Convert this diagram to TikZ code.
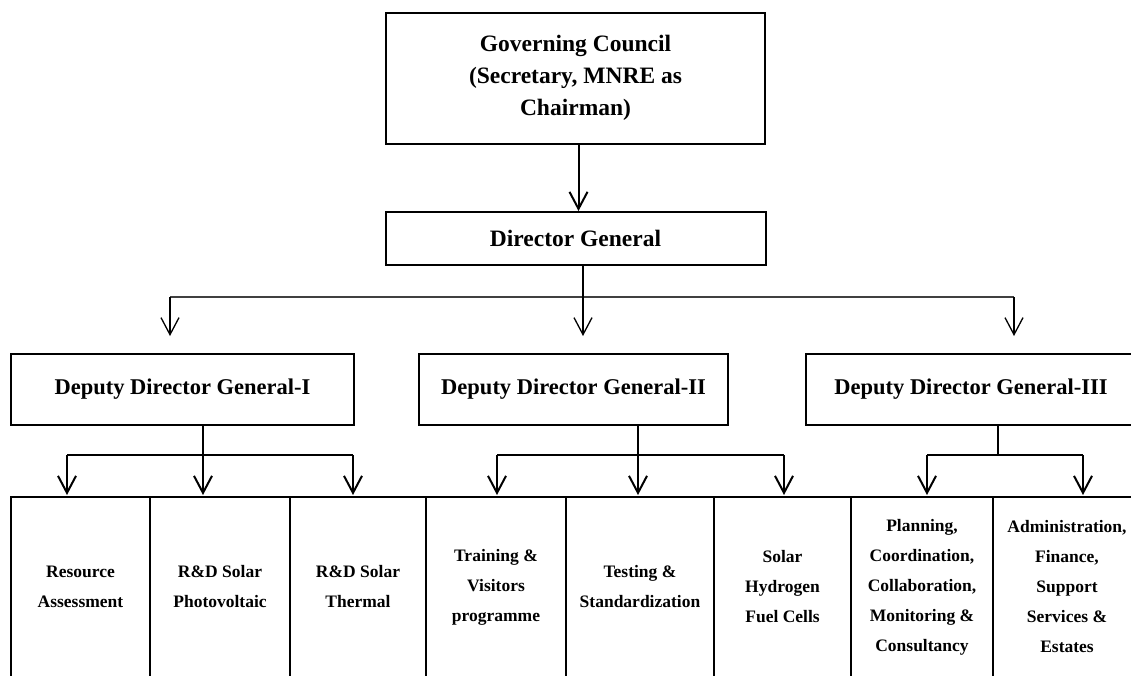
\documentclass[tikz,border=0pt]{standalone}
\usepackage{fontspec}
\setmainfont{Liberation Serif}
\usetikzlibrary{arrows.meta,calc}
\tikzset{
  box/.style={draw, line width=2pt, inner sep=0pt, align=center,
    font=\bfseries\fontsize{23.5}{32}\selectfont},
  ddgbox/.style={box, font=\bfseries\fontsize{22.5}{30}\selectfont, minimum height=71pt},
  cell/.style={draw, line width=2pt, inner sep=0pt, align=center,
    font=\bfseries\fontsize{17.5}{30}\selectfont, minimum height=180pt},
  conn/.style={line width=2pt},
  thinconn/.style={line width=1.3pt},
  tip/.style={-{Straight Barb[length=17pt,width=18pt]}},
}
\begin{document}
\begin{tikzpicture}[x=1pt,y=-1pt]
\useasboundingbox (0,0) rectangle (1131,675);
\clip (0,0) rectangle (1131,675);

% top boxes
\node[box, minimum width=379pt, minimum height=131pt] (gc) at (575.5,78)
  {Governing Council\\(Secretary, MNRE as\\Chairman)};
\node[box, minimum width=380pt, minimum height=53pt] (dg) at (575.5,238.5)
  {Director General};

% deputy directors
\node[ddgbox, minimum width=343pt] (ddg1) at (182.5,389.5) {Deputy Director General-I};
\node[ddgbox, minimum width=309pt] (ddg2) at (573.5,389.5) {Deputy Director General-II};
\node[ddgbox, minimum width=330pt] (ddg3) at (971,389.5) {Deputy Director General-III};

% bottom cells
\node[cell, minimum width=139pt] (c1) at (80.5,587) {Resource\\Assessment};
\node[cell, minimum width=140pt] (c2) at (220,587) {R\&D Solar\\Photovoltaic};
\node[cell, minimum width=136pt] (c3) at (358,587) {R\&D Solar\\Thermal};
\node[cell, minimum width=140pt] (c4) at (496,587) {Training \&\\Visitors\\programme};
\node[cell, minimum width=148pt] (c5) at (640,587) {Testing \&\\Standardization};
\node[cell, minimum width=137pt] (c6) at (782.5,587) {Solar\\Hydrogen\\Fuel Cells};
\node[cell, minimum width=142pt] (c7) at (922,587) {Planning,\\Coordination,\\Collaboration,\\Monitoring \&\\Consultancy};
\node[cell, minimum width=148pt] (c8) at (1067,587) {Administration,\\Finance,\\Support\\Services \&\\Estates};

% GC -> DG
\draw[conn, tip] ([xshift=3pt]gc.south) -- ([xshift=3pt]dg.north);

% DG -> DDGs
\coordinate (bl) at (170,297);
\coordinate (bm) at (583,297);
\coordinate (br) at (1014,297);
\coordinate (a1) at (170,336);
\coordinate (a2) at (583,336);
\coordinate (a3) at (1014,336);
\draw[line width=1.1pt, draw=black!75] (bl) -- (br);
\draw[thinconn, tip] (dg.south -| bm) -- (a2);
\draw[thinconn, tip] (bl) -- (a1);
\draw[thinconn, tip] (br) -- (a3);

% DDG-I -> cells
\coordinate (p1l) at (67,455);
\coordinate (p1m) at (203,455);
\coordinate (p1r) at (353,455);
\coordinate (q1l) at (67,495);
\coordinate (q1m) at (203,495);
\coordinate (q1r) at (353,495);
\draw[conn] (p1l) -- (p1r);
\draw[conn, tip] (ddg1.south -| p1m) -- (q1m);
\draw[conn, tip] (p1l) -- (q1l);
\draw[conn, tip] (p1r) -- (q1r);

% DDG-II -> cells
\coordinate (p2l) at (497,455);
\coordinate (p2m) at (638,455);
\coordinate (p2r) at (784,455);
\coordinate (q2l) at (497,495);
\coordinate (q2m) at (638,495);
\coordinate (q2r) at (784,495);
\draw[conn] (p2l) -- (p2r);
\draw[conn, tip] (ddg2.south -| p2m) -- (q2m);
\draw[conn, tip] (p2l) -- (q2l);
\draw[conn, tip] (p2r) -- (q2r);

% DDG-III -> cells
\coordinate (p3l) at (927,455);
\coordinate (p3m) at (998,455);
\coordinate (p3r) at (1083,455);
\coordinate (q3l) at (927,495);
\coordinate (q3r) at (1083,495);
\draw[conn] (ddg3.south -| p3m) -- (p3m);
\draw[conn] (p3l) -- (p3r);
\draw[conn, tip] (p3l) -- (q3l);
\draw[conn, tip] (p3r) -- (q3r);
\end{tikzpicture}
\end{document}
